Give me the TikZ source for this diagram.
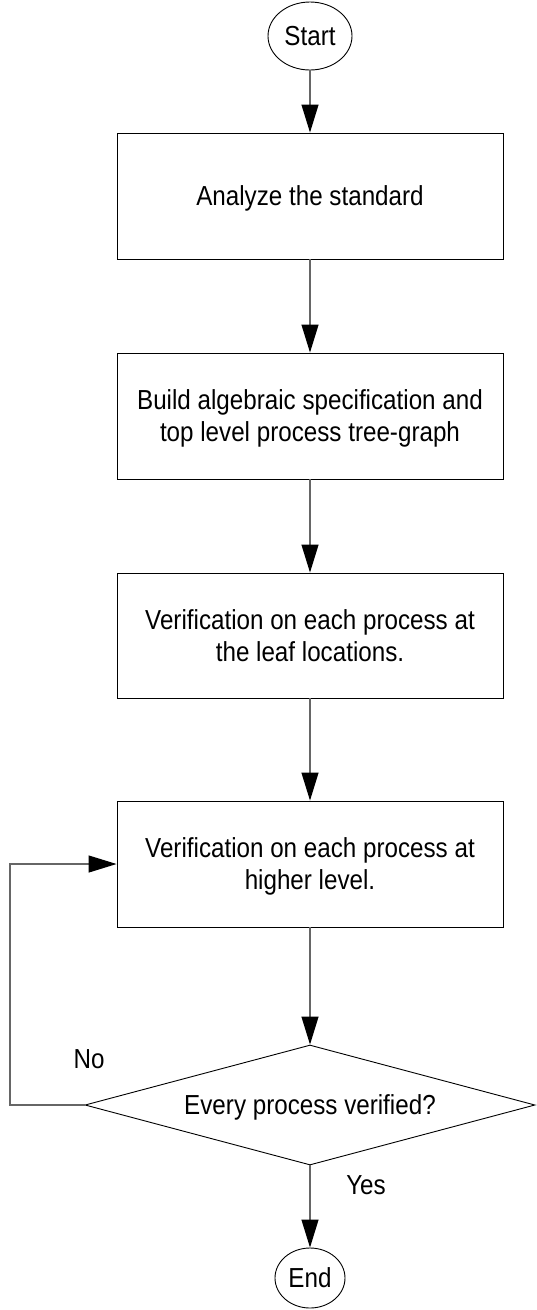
\documentclass[tikz,border=0pt]{standalone}
\usepackage{fontspec}
\setmainfont[FakeStretch=0.88]{Liberation Sans}
\usetikzlibrary{arrows.meta,shapes.geometric}
\begin{document}
\begin{tikzpicture}[x=1pt,y=-1pt,
  font=\fontsize{27.5pt}{32pt}\selectfont,
  shapeline/.style={draw=black,line width=0.9pt},
  terminal/.style={shapeline,ellipse,inner sep=0pt,text depth=0pt},
  procbox/.style={shapeline,rectangle,minimum width=386pt,minimum height=126pt,inner sep=0pt,align=center,text depth=0pt},
  decision/.style={shapeline,diamond,aspect=3.75,inner sep=0pt,minimum width=450pt,minimum height=120pt,text depth=0pt},
  flow/.style={draw=black!60,line width=1.1pt,-{Triangle[length=28pt,width=17pt,fill=black,color=black]}},
  lbl/.style={anchor=base,inner sep=0pt}
]
\useasboundingbox (0,0) rectangle (536,1310);
\node[terminal,minimum width=84pt,minimum height=68pt] (start) at (310,36) {Start};
\node[procbox] (b1) at (310,196) {Analyze the standard};
\node[procbox] (b2) at (310,416) {Build algebraic specification and\\top level process tree-graph};
\node[procbox,minimum height=125pt] (b3) at (310,635.5) {Verification on each process at\\the leaf locations.};
\node[procbox] (b4) at (310,864) {Verification on each process at\\higher level.};
\node[decision] (dec) at (310,1105) {Every process verified?};
\node[terminal,minimum width=70pt,minimum height=60pt] (end) at (310,1278) {End};
\coordinate (lp) at (10,1105);
\node[lbl] (no) at (89,1068) {No};
\node[lbl] (yes) at (366,1194) {Yes};
\draw[flow] (start) -- (b1);
\draw[flow] (b1) -- (b2);
\draw[flow] (b2) -- (b3);
\draw[flow] (b3) -- (b4);
\draw[flow] (b4) -- (dec);
\draw[flow] (dec) -- (end);
\draw[flow] (dec.west) -- (lp) |- (b4.west);
\end{tikzpicture}
\end{document}
